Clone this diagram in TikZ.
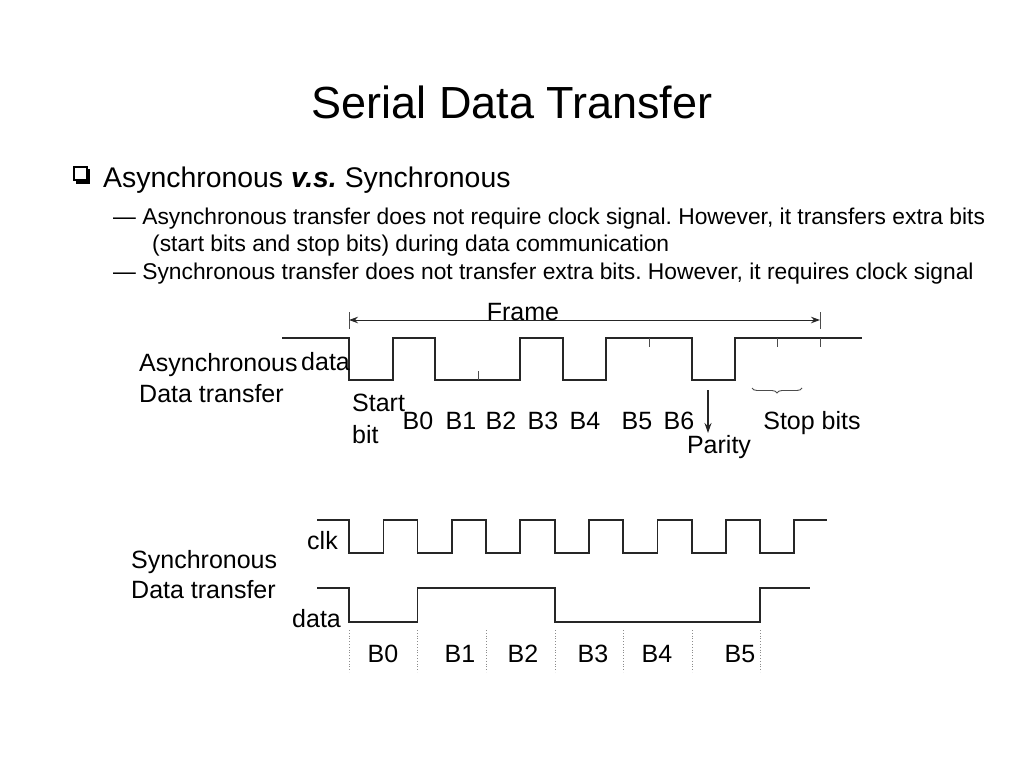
\documentclass[tikz,border=0pt]{standalone}
\usepackage{fontspec}
\setmainfont{Liberation Sans}
\usetikzlibrary{decorations.pathreplacing,arrows.meta}
\frenchspacing
\begin{document}
\begin{tikzpicture}[x=1pt,y=-1pt,
  wave/.style={line width=1.3pt, black!85},
  tick/.style={line width=0.9pt, black!70},
  guide/.style={line width=0.8pt, black!45, dotted},
  lbl/.style={font=\fontsize{25}{30}\selectfont, inner sep=0pt, anchor=base west},
  clbl/.style={font=\fontsize{25}{30}\selectfont, inner sep=0pt, anchor=base},
  body/.style={font=\fontsize{22.8}{27}\selectfont, inner sep=0pt, anchor=base west}]
\useasboundingbox (0,0) rectangle (1024,768);

% title and text
\node[anchor=base, inner sep=0pt, font=\fontsize{45}{54}\selectfont] (title) at (512,118) {Serial Data Transfer};
\draw[line width=1.3pt] (74,167) rectangle (87,180);
\fill (76,180) rectangle (90,183.5);
\fill (87,169) rectangle (90,183.5);
\node[anchor=base west, inner sep=0pt, font=\fontsize{28.4}{33}\selectfont] (sub) at (103,187) {Asynchronous \textbf{\textit{v.s.}} Synchronous};
\node[body] (l1) at (113,224) {— Asynchronous transfer does not require clock signal. However, it transfers extra bits};
\node[body] (l2) at (152,251) {(start bits and stop bits) during data communication};
\node[body] (l3) at (113,279) {— Synchronous transfer does not transfer extra bits. However, it requires clock signal};

% asynchronous waveform
\draw[wave] (282,338) -- (349,338) -- (349,380) -- (393,380) -- (393,338) -- (435,338) -- (435,380)
  -- (520,380) -- (520,338) -- (563,338) -- (563,380) -- (606,380) -- (606,338) -- (692,338)
  -- (692,380) -- (735,380) -- (735,338) -- (862,338);
\draw[tick] (478,380) -- (478,371);
\draw[tick] (649,338) -- (649,347);
\draw[tick] (777,338) -- (777,347);
\draw[tick] (820,338) -- (820,347);

% frame
\coordinate (fl) at (349,320);
\coordinate (fr) at (820,320);
\draw[tick] (349,312) -- (349,329);
\draw[tick] (820,312) -- (820,329);
\draw[line width=1pt, black!85, {Stealth[length=9pt,width=6.5pt]}-{Stealth[length=9pt,width=6.5pt]}] (fl) -- (fr);
\node[clbl] (frame) at (523,320) {Frame};

\node[lbl] (async) at (139,371) {Asynchronous};
\node[lbl] (adata) at (301,370) {data};
\node[lbl] (adt) at (139,402) {Data transfer};
\node[lbl] (start) at (352,411) {Start};
\node[lbl] (bit) at (352,443) {bit};
\node[clbl] (a0) at (418,429) {B0};
\node[clbl] (a1) at (461,429) {B1};
\node[clbl] (a2) at (501,429) {B2};
\node[clbl] (a3) at (543,429) {B3};
\node[clbl] (a4) at (585,429) {B4};
\node[clbl] (a5) at (637,429) {B5};
\node[clbl] (a6) at (679,429) {B6};
\coordinate (pt) at (708,390);
\coordinate (pb) at (708,433);
\draw[line width=1.3pt, black!85, -{Stealth[length=10pt,width=7pt]}] (pt) -- (pb);
\node[clbl] (parity) at (719,453) {Parity};
\coordinate (bl) at (752,388);
\coordinate (br) at (802,388);
\draw[tick, decorate, decoration={brace, mirror, amplitude=5pt}] (bl) -- (br);
\node[clbl] (stop) at (812,429) {Stop bits};

% synchronous waveform
\draw[wave] (317,520) -- (349,520) -- (349,553) -- (383.5,553) -- (383.5,520) -- (417.5,520) -- (417.5,553)
  -- (452,553) -- (452,520) -- (486,520) -- (486,553) -- (520,553) -- (520,520) -- (555,520) -- (555,553)
  -- (589,553) -- (589,520) -- (623,520) -- (623,553) -- (657.5,553) -- (657.5,520) -- (692,520) -- (692,553)
  -- (726,553) -- (726,520) -- (760,520) -- (760,553) -- (794,553) -- (794,520) -- (827,520);
\draw[wave] (317,588) -- (349,588) -- (349,622) -- (417.5,622) -- (417.5,588) -- (555,588) -- (555,622)
  -- (760,622) -- (760,588) -- (810,588);
\foreach \gx in {349,417.5,486,555,623,692,760}
  \draw[guide] (\gx,630) -- (\gx,672);

\node[lbl] (clk) at (307,549) {clk};
\node[lbl] (sdata) at (292,627) {data};
\node[lbl] (sync) at (131,568) {Synchronous};
\node[lbl] (sdt) at (131,598) {Data transfer};
\node[clbl] (s0) at (383,662) {B0};
\node[clbl] (s1) at (460,662) {B1};
\node[clbl] (s2) at (523,662) {B2};
\node[clbl] (s3) at (593,662) {B3};
\node[clbl] (s4) at (657,662) {B4};
\node[clbl] (s5) at (740,662) {B5};
\end{tikzpicture}
\end{document}
